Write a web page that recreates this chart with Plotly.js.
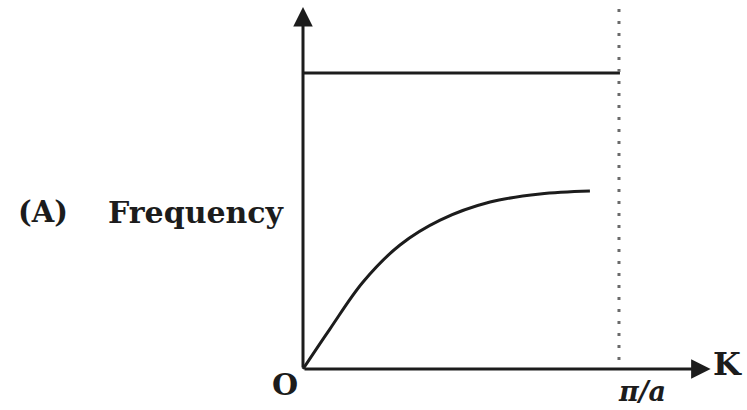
<!DOCTYPE html>
<html>
<head>
<meta charset="utf-8">
<script src="https://cdn.plot.ly/plotly-3.0.1.min.js"></script>
<style>
  html, body { margin: 0; padding: 0; background: #fff; }
  #chart { width: 747px; height: 410px; }
</style>
</head>
<body>
<div id="chart"></div>
<script>
// Wave vector K in units of pi/a, frequency normalised to the optical branch.
var acousticK    = [0, 0.085, 0.19, 0.307, 0.434, 0.592, 0.750, 0.908];
var acousticFreq = [0, 0.135, 0.294, 0.419, 0.503, 0.564, 0.591, 0.601];
var opticalK     = [0, 1.003];
var opticalFreq  = [1, 1];
var zoneEdgeK    = [1, 1];
var zoneEdgeFreq = [0.03, 1.223];
var axisTipK     = 1.29;   // end of the K arrow
var axisTipFreq  = 1.223;  // end of the frequency arrow

var ink = '#1c1c1c';
var serif = 'DejaVu Serif, Liberation Serif, serif';

var traces = [
  { x: acousticK, y: acousticFreq, mode: 'lines',
    line: { color: ink, width: 3, shape: 'spline', smoothing: 1 }, hoverinfo: 'skip' },
  { x: opticalK, y: opticalFreq, mode: 'lines',
    line: { color: ink, width: 3 }, hoverinfo: 'skip' },
  { x: zoneEdgeK, y: zoneEdgeFreq, mode: 'lines',
    line: { color: '#6a6a6a', width: 3, dash: '3px,9px' }, hoverinfo: 'skip' }
];

function arrow(x, y, ax, ay) {
  return { x: x, y: y, ax: ax, ay: ay, xref: 'x', yref: 'y', axref: 'x', ayref: 'y',
           text: '', showarrow: true, arrowhead: 2, arrowsize: 1.3, arrowwidth: 3,
           arrowcolor: ink, standoff: 0, startstandoff: 0 };
}
function label(txt, px, py, size, xanchor, yanchor) {
  return { text: txt, xref: 'paper', yref: 'paper', x: px / 747, y: 1 - py / 410,
           xanchor: xanchor, yanchor: yanchor, showarrow: false,
           font: { family: serif, size: size, color: ink } };
}

var layout = {
  width: 747, height: 410,
  margin: { l: 0, r: 0, t: 0, b: 0 },
  paper_bgcolor: '#fff', plot_bgcolor: '#fff',
  showlegend: false,
  xaxis: { range: [-0.9589, 1.4051], visible: false, fixedrange: true },
  yaxis: { range: [-0.1385, 1.2466], visible: false, fixedrange: true },
  annotations: [
    arrow(axisTipK, 0, 0, 0),
    arrow(0, axisTipFreq, 0, 0),
    label('<b>(A)</b>', 16, 212, 29, 'left', 'middle'),
    label('<b>Frequency</b>', 106, 212, 30, 'left', 'middle'),
    label('<b>O</b>', 285, 384, 30, 'center', 'middle'),
    label('<b>K</b>', 727, 364, 32, 'center', 'middle'),
    label('<b><i>π/a</i></b>', 642, 391, 27, 'center', 'middle')
  ]
};

Plotly.newPlot('chart', traces, layout, { staticPlot: true, displayModeBar: false });
</script>
</body>
</html>
